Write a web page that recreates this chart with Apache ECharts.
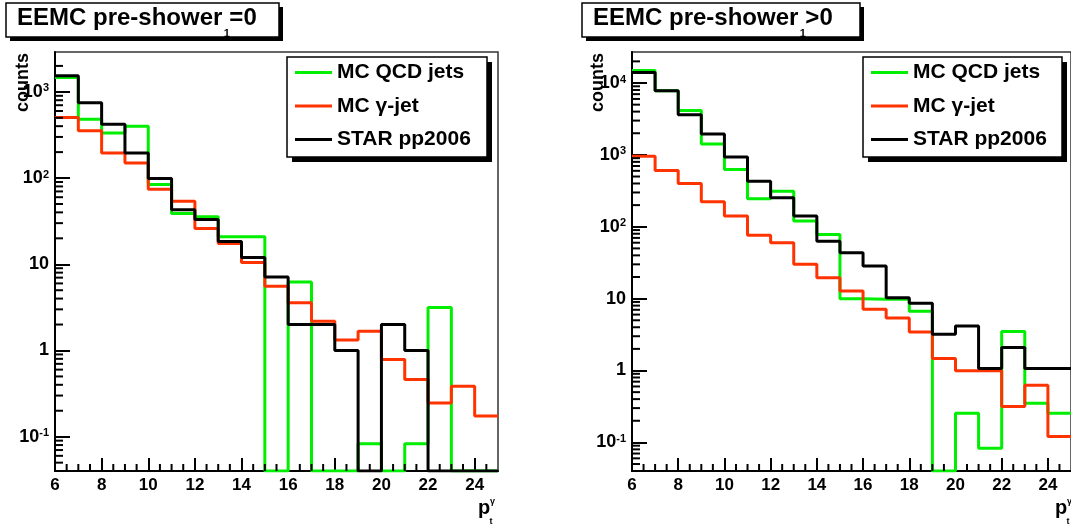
<!DOCTYPE html>
<html><head><meta charset="utf-8">
<script src="https://cdn.jsdelivr.net/npm/echarts@6/dist/echarts.min.js"></script>
<style>html,body{margin:0;padding:0;background:#fff}#c{width:1071px;height:527px}</style>
</head><body><div id="c"></div>
<script>
// ---- data ----
const binEdges = [6,7,8,9,10,11,12,13,14,15,16,17,18,19,20,21,22,23,24,25];
const seriesNames = ['MC QCD jets', 'MC \u03b3-jet', 'STAR pp2006'];
// panel 1: EEMC pre-shower_1 = 0
const leftQCD   = [1470, 482, 334, 400, 84, 38.8, 35.5, 20.8, 20.8, 0, 6.25, 0, 0, 0.083, 0, 0.083, 3.15, 0, 0];
const leftGamma = [505, 355, 196, 150, 74, 54, 26, 17.4, 10.5, 5.57, 3.57, 2.19, 1.32, 1.67, 0.785, 0.46, 0.246, 0.385, 0.174];
const leftStar  = [1540, 750, 422, 196, 99, 43, 33, 18.4, 12, 7.1, 2, 2, 1, 0, 2, 1, 0, 0, 0];
// panel 2: EEMC pre-shower_1 > 0
const rightQCD   = [14960, 7800, 4160, 1420, 625, 245, 313, 120, 78, 10, 9.8, 9.8, 6.7, 0, 0.255, 0.083, 3.48, 0.35, 0.255];
const rightGamma = [957, 605, 400, 222, 141, 76, 60, 30, 19.6, 12.8, 7.1, 5.4, 3.44, 1.47, 0.99, 1.0, 0.316, 0.625, 0.121];
const rightStar  = [14000, 7800, 3630, 1960, 937, 430, 253, 141, 63, 43.5, 28.4, 10.3, 8.6, 3.19, 4.17, 1.07, 2.09, 1.07, 1.07];
// axes
const xMin = 6, xMax = 25, xMajorStep = 2;
const xMinorTicks = [6.5,7,7.5,8.5,9,9.5,10.5,11,11.5,12.5,13,13.5,14.5,15,15.5,16.5,17,17.5,18.5,19,19.5,20.5,21,21.5,22.5,23,23.5,24.5];
const yMinorMantissas = [2,3,4,5,6,7,8,9];
const yDecades = [0.01, 0.1, 1, 10, 100, 1000, 10000];
const leftYRange = [0.04, 2900];
const rightYRange = [0.04, 27000];

const FONT = "'Liberation Sans', Arial, Helvetica, sans-serif";
const colors = ['#00ee00', '#ff3300', '#000000'];

const measureCtx = document.createElement('canvas').getContext('2d');
function textWidth(txt, font) { measureCtx.font = font; return measureCtx.measureText(txt).width; }

function histData(vals, yFloor) {
  const pts = vals.map((v, i) => [binEdges[i], v > 0 ? v : yFloor]);
  const last = vals[vals.length - 1];
  pts.push([binEdges[binEdges.length - 1], last > 0 ? last : yFloor]);
  return pts;
}
function minorTickData(yRange) {
  const d = [];
  xMinorTicks.forEach(x => d.push([x, yRange[0], 0]));
  yDecades.forEach(dec => yMinorMantissas.forEach(m => {
    const v = dec * m;
    if (v > yRange[0] && v < yRange[1]) d.push([xMin, v, 1]);
  }));
  return d;
}
function yLabel(v) {
  const e = Math.round(Math.log10(v));
  if (e === 0) return '{n|1}';
  if (e === 1) return '{n|10}';
  return '{n|10}{s|' + e + '}';
}

function makeX(gi) {
  return {
    type: 'value', gridIndex: gi, min: xMin, max: xMax, interval: xMajorStep,
    axisLine: {show: true, onZero: false, lineStyle: {color: '#000', width: 2}},
    axisTick: {show: true, inside: true, length: 13, lineStyle: {color: '#000', width: 2}},
    axisLabel: {show: true, showMaxLabel: false, margin: 6, fontFamily: FONT, fontWeight: 'bold', fontSize: 17, color: '#000'},
    splitLine: {show: false}
  };
}
function makeY(gi, range) {
  return {
    type: 'log', logBase: 10, gridIndex: gi, min: range[0], max: range[1],
    axisLine: {show: true, lineStyle: {color: '#000', width: 2}},
    axisTick: {show: true, inside: true, length: 15, lineStyle: {color: '#000', width: 2}},
    axisLabel: {
      show: true, showMinLabel: false, showMaxLabel: false, margin: 6,
      formatter: yLabel,
      rich: {
        n: {fontFamily: FONT, fontWeight: 'bold', fontSize: 18, color: '#000'},
        s: {fontFamily: FONT, fontWeight: 'bold', fontSize: 11, color: '#000', verticalAlign: 'top', padding: [0, 0, 6, 0]}
      }
    },
    splitLine: {show: false}
  };
}
function histSeries(name, vals, gi, range, color) {
  return {
    type: 'line', name: name, xAxisIndex: gi, yAxisIndex: gi,
    data: histData(vals, range[0]), step: 'end', showSymbol: false, symbol: 'none',
    lineStyle: {color: color, width: 3}, itemStyle: {color: color},
    animation: false, silent: true, z: 3
  };
}
function tickSeries(gi, range) {
  return {
    type: 'custom', xAxisIndex: gi, yAxisIndex: gi, silent: true, animation: false, z: 4,
    data: minorTickData(range), clip: false,
    renderItem: function (params, api) {
      const p = api.coord([api.value(0), api.value(1)]);
      const dir = api.value(2);
      const shape = dir === 0
        ? {x1: p[0], y1: p[1], x2: p[0], y2: p[1] - 7}
        : {x1: p[0], y1: p[1], x2: p[0] + 8, y2: p[1]};
      return {type: 'line', shape: shape, style: {stroke: '#000', lineWidth: 2}};
    }
  };
}
function legendFor(left) {
  return {
    left: left + 8, top: 62, orient: 'vertical', data: seriesNames,
    icon: 'rect', itemWidth: 37, itemHeight: 3, itemGap: 12.5,
    padding: 0, selectedMode: false, z: 60,
    backgroundColor: 'transparent', borderWidth: 0,
    textStyle: {fontFamily: FONT, fontWeight: 'bold', fontSize: 21, lineHeight: 21, color: '#000'}
  };
}
function legendFrame(x, w) {
  return [
    {type: 'rect', z: 50, shape: {x: x + 5, y: 62, width: w, height: 100}, style: {fill: '#000'}, silent: true},
    {type: 'rect', z: 51, shape: {x: x, y: 57, width: w, height: 100}, style: {fill: '#fff', stroke: '#000', lineWidth: 1.5}, silent: true}
  ];
}
const TITLE_FONT = 'bold 24px ' + FONT;
function titleBox(x, w, cmp) {
  const tx = x + 11;
  const mainW = textWidth('EEMC pre-shower', TITLE_FONT);
  const subX = tx + mainW + 1.5;
  const cmpX = subX + 5.5;
  return [
    {type: 'rect', shape: {x: x + 4, y: 7, width: w, height: 34}, style: {fill: '#000'}, silent: true},
    {type: 'rect', shape: {x: x, y: 3, width: w, height: 34}, style: {fill: '#fff', stroke: '#000', lineWidth: 1.5}, silent: true},
    {type: 'text', x: tx, y: 18.5, style: {text: 'EEMC pre-shower', font: TITLE_FONT, fill: '#000', verticalAlign: 'middle', align: 'left'}, silent: true},
    {type: 'text', x: subX, y: 33.5, style: {text: '1', font: 'bold 11px ' + FONT, fill: '#000', verticalAlign: 'middle', align: 'left'}, silent: true},
    {type: 'text', x: cmpX, y: 18.5, style: {text: cmp, font: TITLE_FONT, fill: '#000', verticalAlign: 'middle', align: 'left'}, silent: true}
  ];
}
function axisTitles(countsX, pX) {
  return [
    {type: 'text', x: countsX, y: 53, rotation: Math.PI / 2, style: {text: 'counts', font: 'bold 18px ' + FONT, fill: '#000', align: 'right', verticalAlign: 'middle'}, silent: true},
    {type: 'text', x: pX, y: 508.5, style: {text: 'p', font: 'bold 20px ' + FONT, fill: '#000', align: 'left', verticalAlign: 'middle'}, silent: true},
    {type: 'text', x: pX + 12, y: 501.5, style: {text: '\u03b3', font: 'bold 9px ' + FONT, fill: '#000', align: 'left', verticalAlign: 'middle'}, silent: true},
    {type: 'text', x: pX + 11.5, y: 521.5, style: {text: 't', font: 'bold 9px ' + FONT, fill: '#000', align: 'left', verticalAlign: 'middle'}, silent: true}
  ];
}

const chart = echarts.init(document.getElementById('c'), null, {renderer: 'canvas'});
chart.setOption({
  backgroundColor: '#fff',
  animation: false,
  grid: [
    {left: 55, top: 52, width: 443, height: 419, show: true, borderColor: '#333', borderWidth: 1.5, backgroundColor: '#fff', containLabel: false},
    {left: 632, top: 52, width: 443, height: 419, show: true, borderColor: '#333', borderWidth: 1.5, backgroundColor: '#fff', containLabel: false}
  ],
  xAxis: [makeX(0), makeX(1)],
  yAxis: [makeY(0, leftYRange), makeY(1, rightYRange)],
  legend: [legendFor(287), legendFor(863)],
  series: [
    histSeries(seriesNames[0], leftQCD, 0, leftYRange, colors[0]),
    histSeries(seriesNames[1], leftGamma, 0, leftYRange, colors[1]),
    histSeries(seriesNames[2], leftStar, 0, leftYRange, colors[2]),
    histSeries(seriesNames[0], rightQCD, 1, rightYRange, colors[0]),
    histSeries(seriesNames[1], rightGamma, 1, rightYRange, colors[1]),
    histSeries(seriesNames[2], rightStar, 1, rightYRange, colors[2]),
    tickSeries(0, leftYRange),
    tickSeries(1, rightYRange)
  ],
  graphic: [].concat(
    titleBox(6, 273, '=0'),
    titleBox(582, 278, '>0'),
    legendFrame(287, 200),
    legendFrame(863, 199),
    axisTitles(23, 478),
    axisTitles(598, 1055)
  )
});
</script>
</body></html>
